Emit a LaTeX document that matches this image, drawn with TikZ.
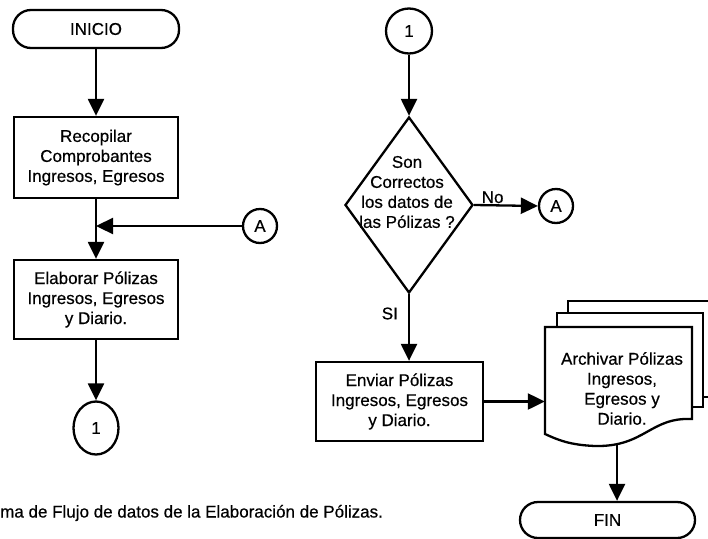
\documentclass[tikz,border=0pt]{standalone}
\usepackage{fontspec}
\setmainfont{Liberation Sans}[FakeBold=0.5]
\usetikzlibrary{shapes.geometric,arrows.meta}
\tikzset{
  base/.style={line width=2.3pt},
  arr/.style={base,-{Triangle[length=17pt,width=16pt]}},
  term/.style={draw,base,rounded corners=18pt,inner sep=0pt},
  proc/.style={draw,base,align=center,inner sep=0pt},
  conn/.style={draw,base,circle,inner sep=0pt,minimum size=34pt},
  oval/.style={draw,base,ellipse,inner sep=0pt},
  sheet/.style={draw,base,fill=white},
  txt/.style={align=center,inner sep=0pt}
}
\begin{document}
\begin{tikzpicture}[x=1pt,y=-1pt,font=\fontsize{17pt}{20pt}\selectfont]
\useasboundingbox (0,0) rectangle (708,538);
% left column
\node[term,minimum width=166pt,minimum height=38pt] (inicio) at (96,29) {INICIO};
\node[proc,minimum width=164pt,minimum height=81pt] (b1) at (96,157.5) {Recopilar\\Comprobantes\\Ingresos, Egresos};
\node[conn] (A1) at (260,226) {A};
\node[proc,minimum width=164pt,minimum height=79pt] (b2) at (96,299.5) {Elaborar Pólizas\\Ingresos, Egresos\\y Diario.};
\node[oval,minimum width=45pt,minimum height=53pt] (c1) at (96,428) {1};
\node[anchor=west,inner sep=0pt] (cap) at (0,513) {ma de Flujo de datos de la Elaboración de Pólizas.};
\draw[arr] (inicio.south) -- (b1.north);
\draw[arr] (b1.south) -- (b2.north);
\draw[arr] (A1.west) -- (A1.west -| b1.south);
\draw[arr] (b2.south) -- (c1.north);
% right column
\node[oval,minimum width=46pt,minimum height=45pt] (c2) at (409,31) {1};
\node[diamond,draw,base,inner sep=0pt,minimum width=128pt,minimum height=176pt] (dia) at (409,205) {};
\node[txt] (diatxt) at (407,192) {Son\\Correctos\\los datos de\\las Pólizas ?};
\node[conn] (A2) at (556,206) {A};
\node[proc,minimum width=167pt,minimum height=79pt] (b3) at (399.5,401.5) {Enviar Pólizas\\Ingresos, Egresos\\y Diario.};
\draw[arr] (c2.south) -- (dia.north);
\draw[arr] (dia.east) -- node[above,pos=0.29,inner sep=1pt] (no) {No} (A2.west);
\draw[arr] (dia.south) -- node[left=10pt,pos=0.29,inner sep=0pt] (si) {SI} (dia.south |- b3.north);
% document stack
\draw[sheet] (568,301) rectangle (716,397);
\draw[sheet] (557,313) rectangle (703,407);
\draw[sheet] (545,327) -- (692,327) -- (692,419) .. controls (650,417) and (645,447) .. (595,446) .. controls (570,445) and (558,440) .. (545,434) -- cycle;
\node[minimum width=147pt,minimum height=107pt,inner sep=0pt] (front) at (618.5,380.5) {};
\node[txt] (doctxt) at (622,388.5) {Archivar Pólizas\\Ingresos,\\Egresos y\\Diario.};
\coordinate (docbot) at (617,444);
\node[term,minimum width=175pt,minimum height=36pt] (fin) at (607.5,520) {FIN};
\draw[arr] (b3.east) -- (b3.east -| front.west);
\draw[arr] (docbot) -- (docbot |- fin.north);
\end{tikzpicture}
\end{document}
